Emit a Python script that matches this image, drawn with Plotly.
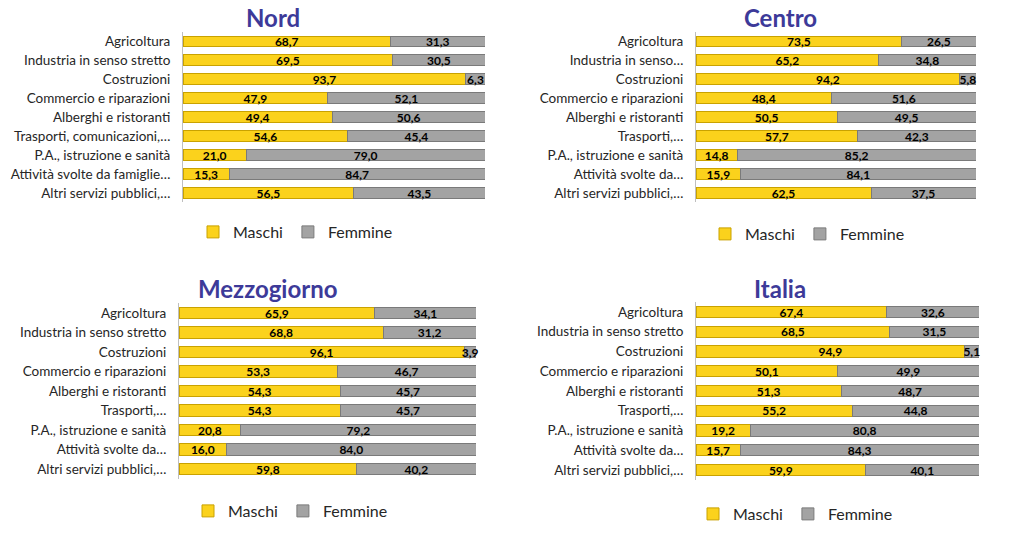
import plotly.graph_objects as go

# ---- data ----
labels_nord = ["Agricoltura", "Industria in senso stretto", "Costruzioni", "Commercio e riparazioni",
               "Alberghi e ristoranti", "Trasporti, comunicazioni,…", "P.A., istruzione e sanità",
               "Attività svolte da famiglie…", "Altri servizi pubblici,…"]
labels_centro = ["Agricoltura", "Industria in senso…", "Costruzioni", "Commercio e riparazioni",
                 "Alberghi e ristoranti", "Trasporti,…", "P.A., istruzione e sanità",
                 "Attività svolte da…", "Altri servizi pubblici,…"]
labels_mezzo = ["Agricoltura", "Industria in senso stretto", "Costruzioni", "Commercio e riparazioni",
                "Alberghi e ristoranti", "Trasporti,…", "P.A., istruzione e sanità",
                "Attività svolte da…", "Altri servizi pubblici,…"]
labels_italia = ["Agricoltura", "Industria in senso stretto", "Costruzioni", "Commercio e riparazioni",
                 "Alberghi e ristoranti", "Trasporti,…", "P.A., istruzione e sanità",
                 "Attività svolte da…", "Altri servizi pubblici,…"]

maschi_nord = [68.7, 69.5, 93.7, 47.9, 49.4, 54.6, 21.0, 15.3, 56.5]
femmine_nord = [31.3, 30.5, 6.3, 52.1, 50.6, 45.4, 79.0, 84.7, 43.5]
maschi_centro = [73.5, 65.2, 94.2, 48.4, 50.5, 57.7, 14.8, 15.9, 62.5]
femmine_centro = [26.5, 34.8, 5.8, 51.6, 49.5, 42.3, 85.2, 84.1, 37.5]
maschi_mezzo = [65.9, 68.8, 96.1, 53.3, 54.3, 54.3, 20.8, 16.0, 59.8]
femmine_mezzo = [34.1, 31.2, 3.9, 46.7, 45.7, 45.7, 79.2, 84.0, 40.2]
maschi_italia = [67.4, 68.5, 94.9, 50.1, 51.3, 55.2, 19.2, 15.7, 59.9]
femmine_italia = [32.6, 31.5, 5.1, 49.9, 48.7, 44.8, 80.8, 84.3, 40.1]

titles = ["Nord", "Centro", "Mezzogiorno", "Italia"]
series_names = ["Maschi", "Femmine"]

W, H = 1024, 541
FONT = "Lato"
YELLOW = "#FBD21C"
YELLOW_LINE = "#C9A200"
GRAY = "#A3A3A3"
GRAY_LINE = "#7A7A7A"
TITLE_COLOR = "#3D3A99"

panels = [
    dict(labels=labels_nord, m=maschi_nord, f=femmine_nord, x0=183, x1=485, yc0=41.5, yc1=193, tx=273, ty=18, lx=193, ly=232),
    dict(labels=labels_centro, m=maschi_centro, f=femmine_centro, x0=696, x1=976, yc0=41.5, yc1=193, tx=780, ty=18, lx=705, ly=234),
    dict(labels=labels_mezzo, m=maschi_mezzo, f=femmine_mezzo, x0=179, x1=476, yc0=313, yc1=469, tx=268, ty=288, lx=188, ly=511),
    dict(labels=labels_italia, m=maschi_italia, f=femmine_italia, x0=696, x1=979, yc0=312, yc1=470, tx=780, ty=288, lx=693, ly=514),
]

fig = go.Figure()
annotations = []
for i, p in enumerate(panels):
    k = "" if i == 0 else str(i + 1)
    xa, ya = "x" + k, "y" + k
    leg = "legend" + k
    for name, vals, col, lc in [(series_names[0], p["m"], YELLOW, YELLOW_LINE),
                                (series_names[1], p["f"], GRAY, GRAY_LINE)]:
        fig.add_trace(go.Bar(
            x=vals, y=p["labels"], orientation="h", name=name,
            marker=dict(color=col, line=dict(color=lc, width=1)),
            texttemplate="%{x:.1f}", textposition="inside", insidetextanchor="middle",
            textfont=dict(family=FONT, size=12, color="black", weight="bold"),
            cliponaxis=False, xaxis=xa, yaxis=ya, legend=leg, hoverinfo="skip"))
    band = (p["yc1"] - p["yc0"]) / 8
    ytop = p["yc0"] - band / 2
    ybot = p["yc1"] + band / 2
    fig.update_layout(**{
        ("xaxis" + k): dict(domain=[p["x0"] / W, p["x1"] / W], range=[0, 100], visible=False,
                            anchor=ya),
        ("yaxis" + k): dict(domain=[1 - ybot / H, 1 - ytop / H], autorange="reversed",
                            anchor=xa, showline=True, linecolor="#BFBFBF", linewidth=1,
                            ticks="", showgrid=False, ticklabelstandoff=9,
                            tickfont=dict(family=FONT, size=13.5, color="#262626")),
        leg: dict(orientation="h", x=p["lx"] / W, y=1 - p["ly"] / H, xanchor="left", yanchor="middle",
                  font=dict(family=FONT, size=16, color="#262626"),
                  itemwidth=30, bgcolor="rgba(0,0,0,0)", traceorder="normal"),
    })
    annotations.append(dict(text="<b>" + titles[i] + "</b>", x=p["tx"] / W, y=1 - p["ty"] / H,
                            xref="paper", yref="paper", showarrow=False, xanchor="center",
                            yanchor="middle", font=dict(family=FONT, size=24, color=TITLE_COLOR)))

fig.update_layout(
    width=W, height=H, margin=dict(l=0, r=0, t=0, b=0),
    barmode="stack", bargap=0.42, separators=",.",
    paper_bgcolor="white", plot_bgcolor="white",
    uniformtext=dict(minsize=12, mode="show"),
    annotations=annotations, showlegend=True,
)
fig.write_html("out.html")
